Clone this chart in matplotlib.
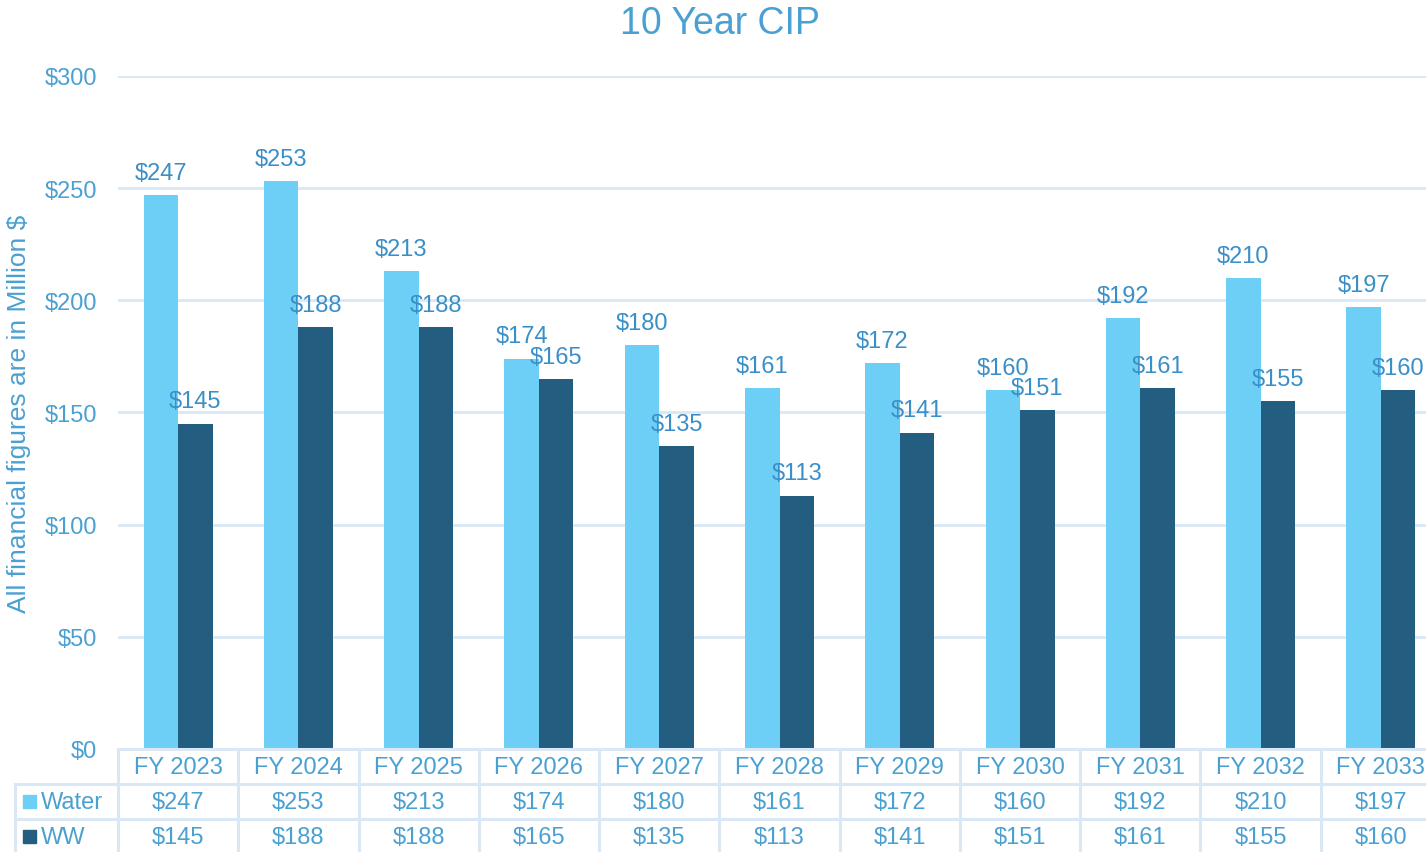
import matplotlib
matplotlib.use("Agg")
import matplotlib.pyplot as plt
import numpy as np
from matplotlib.transforms import blended_transform_factory

categories = ["FY 2023", "FY 2024", "FY 2025", "FY 2026", "FY 2027", "FY 2028",
              "FY 2029", "FY 2030", "FY 2031", "FY 2032", "FY 2033"]
water = [247, 253, 213, 174, 180, 161, 172, 160, 192, 210, 197]
ww = [145, 188, 188, 165, 135, 113, 141, 151, 161, 155, 160]
series_names = ["Water", "WW"]
yticks = [0, 50, 100, 150, 200, 250, 300]

plt.rcParams['font.family'] = ['Liberation Sans', 'DejaVu Sans']

W, H = 1426, 853
fig = plt.figure(figsize=(W / 100, H / 100), dpi=100)
ax_left, ax_right, ax_top, ax_bottom = 118, 1441, 77, 750
ax = fig.add_axes([ax_left / W, 1 - ax_bottom / H, (ax_right - ax_left) / W, (ax_bottom - ax_top) / H])

c_water = "#6dcff6"
c_ww = "#235d7f"
txt = "#4ba0d2"
lbl = "#3a8fc8"
grid = "#d9e8f4"
FS = 17

x = np.arange(len(categories))
bw = 0.287
ax.bar(x - bw / 2, water, bw, color=c_water, zorder=3)
ax.bar(x + bw / 2, ww, bw, color=c_ww, zorder=3)

for i in range(len(categories)):
    ax.text(x[i] - bw / 2, water[i] + 5, f"${water[i]}", ha="center", va="bottom",
            color=lbl, fontsize=FS, zorder=4)
    ax.text(x[i] + bw / 2, ww[i] + 5, f"${ww[i]}", ha="center", va="bottom",
            color=lbl, fontsize=FS, zorder=4)

ax.set_xlim(-0.5, len(categories) - 0.5)
ax.set_ylim(0, 300)
ax.set_yticks(yticks)
ax.set_yticklabels([f"${v}" for v in yticks], fontsize=FS, color=txt)
ax.tick_params(axis="y", length=0, pad=15)
ax.set_xticks([])
for s in ax.spines.values():
    s.set_visible(False)
ax.grid(axis="y", color=grid, linewidth=2, zorder=0)
ax.set_axisbelow(True)

ax.set_ylabel("All financial figures are in Million $", fontsize=19, color=txt)
ax.yaxis.set_label_coords((31 - ax_left) / (ax_right - ax_left), 0.5)

fig.text(720 / W, 1 - 24 / H, "10 Year CIP", ha="center", va="center", fontsize=27, color=txt)

# data table below axes
trans = blended_transform_factory(ax.transData, fig.transFigure)
ftrans = fig.transFigure

def fy(p):
    return 1 - p / H

fig.add_artist(plt.Line2D([ax_left / W, ax_right / W], [fy(750), fy(750)], color=grid, lw=2.2, transform=ftrans))
for yy in (785, 820):
    fig.add_artist(plt.Line2D([15 / W, ax_right / W], [fy(yy), fy(yy)], color=grid, lw=2.2, transform=ftrans))
for b in np.arange(-0.5, len(categories) + 0.5, 1.0):
    fig.add_artist(plt.Line2D([b, b], [fy(750), fy(860)], color=grid, lw=2.2, transform=trans))
fig.add_artist(plt.Line2D([15 / W, 15 / W], [fy(785), fy(860)], color=grid, lw=2.2, transform=ftrans))

for i, c in enumerate(categories):
    fig.text(x[i], fy(768), c, ha="center", va="center", fontsize=FS, color=txt, transform=trans)
    fig.text(x[i], fy(803), f"${water[i]}", ha="center", va="center", fontsize=FS, color=txt, transform=trans)
    fig.text(x[i], fy(838), f"${ww[i]}", ha="center", va="center", fontsize=FS, color=txt, transform=trans)

for name, col, yy in zip(series_names, [c_water, c_ww], [803, 838]):
    fig.patches.append(plt.Rectangle((23 / W, fy(yy) - 6 / H), 13 / W, 13 / H, color=col, transform=ftrans, figure=fig))
    fig.text(41 / W, fy(yy), name, ha="left", va="center", fontsize=FS, color=txt)

fig.savefig("out.png", dpi=100)
